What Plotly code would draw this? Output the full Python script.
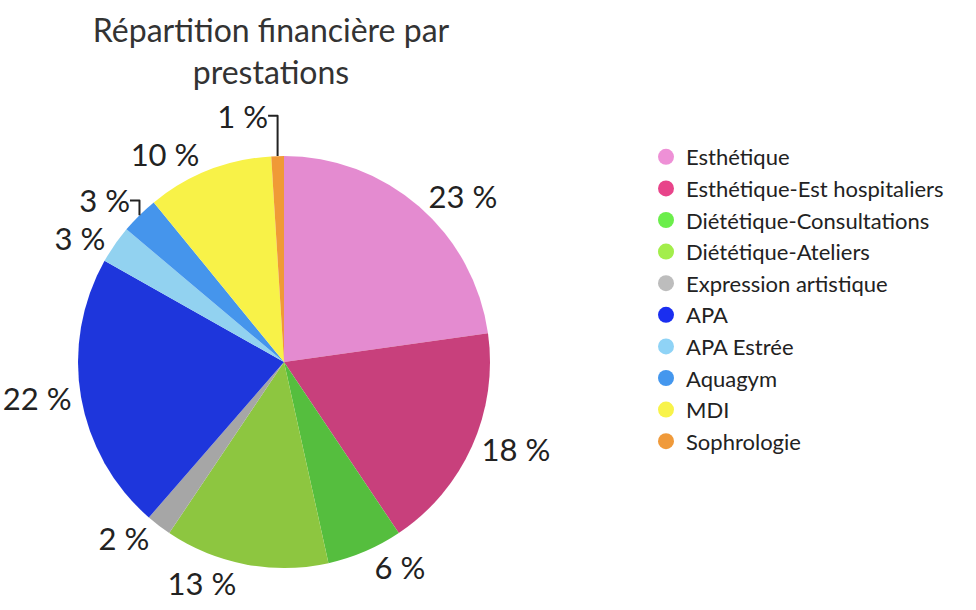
import plotly.graph_objects as go

categories = ["Esthétique", "Esthétique-Est hospitaliers", "Diététique-Consultations",
              "Diététique-Ateliers", "Expression artistique", "APA", "APA Estrée",
              "Aquagym", "MDI", "Sophrologie"]
values = [23, 18, 6, 13, 2, 22, 3, 3, 10, 1]
labels_text = [f"{v} %" for v in values]
slice_colors = ["#E48BD0", "#C8407C", "#55BE3E", "#8DC640", "#A6A6A6",
                "#1E36DC", "#92D2F0", "#4595EC", "#F8F248", "#F09A36"]
legend_colors = ["#EE90D6", "#E8448A", "#6BEE4B", "#A3EE4B", "#BDBDBD",
                 "#1A2EF0", "#8FD3F6", "#4497EE", "#F8F34A", "#F09A3A"]

W, H = 976, 610
cx, cy, r = 284, 362, 206

fig = go.Figure()
fig.add_trace(go.Pie(
    labels=categories, values=values, text=labels_text,
    textinfo="text", textposition="outside", automargin=False,
    textfont=dict(family="Lato", size=31, color="#222222"),
    marker=dict(colors=slice_colors, line=dict(width=0)),
    sort=False, direction="clockwise", rotation=0,
    showlegend=False, hoverinfo="label+percent",
    domain=dict(x=[(cx - r) / W, (cx + r) / W], y=[(H - cy - r) / H, (H - cy + r) / H]),
))
for name, col in zip(categories, legend_colors):
    fig.add_trace(go.Scatter(x=[None], y=[None], mode="markers", name=name,
                             marker=dict(symbol="circle", size=22, color=col)))

fig.update_layout(
    width=W, height=H,
    margin=dict(l=0, r=0, t=0, b=0, autoexpand=False),
    paper_bgcolor="white", plot_bgcolor="white",
    font=dict(family="Lato", color="#222222"),
    title=dict(text="Répartition financière par<br>prestations", x=271 / W, xanchor="center",
               y=1 - 42 / H, yanchor="top", yref="container",
               font=dict(family="Lato", size=32, color="#333333")),
    xaxis=dict(visible=False), yaxis=dict(visible=False),
    legend=dict(x=646 / W, y=1 - 136 / H, xanchor="left", yanchor="top",
                font=dict(family="Lato", size=22, color="#222222"),
                itemsizing="trace", tracegroupgap=0, bgcolor="rgba(0,0,0,0)"),
)
fig.write_html("out.html")
